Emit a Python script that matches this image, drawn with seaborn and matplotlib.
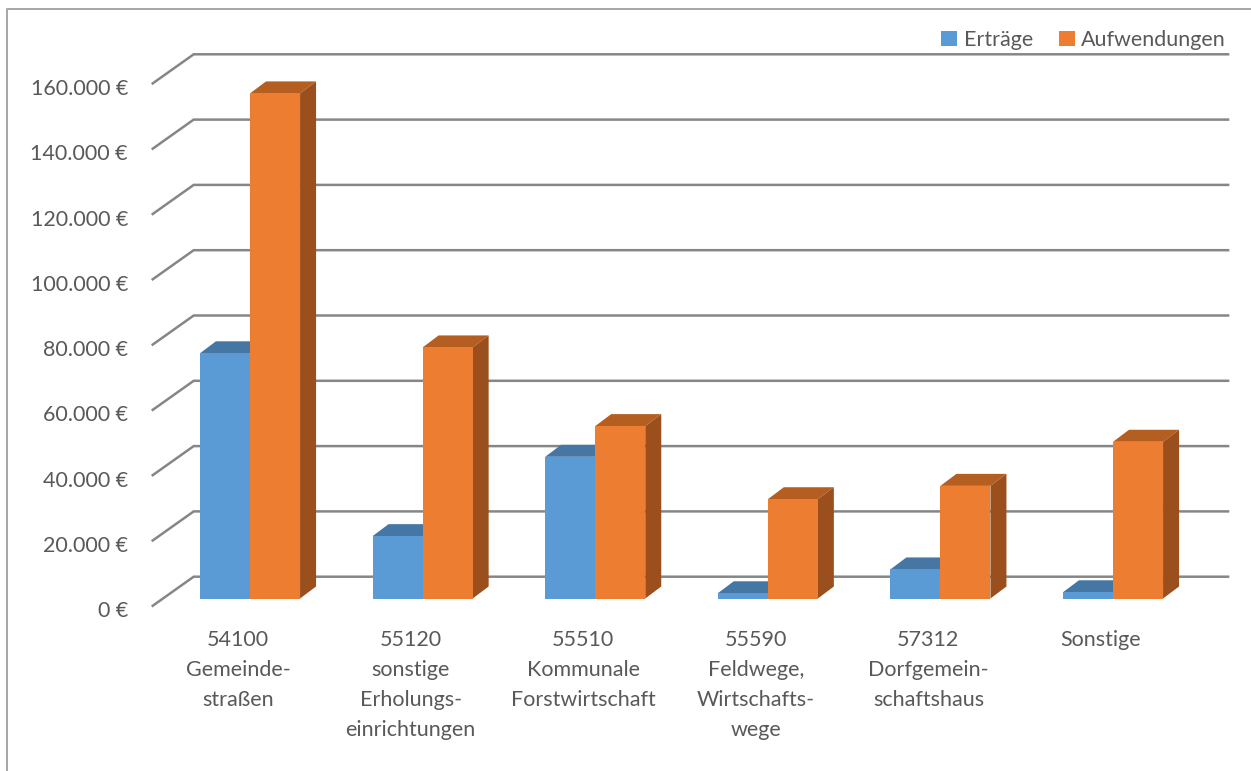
import numpy as np
import pandas as pd
import matplotlib
matplotlib.use("Agg")
import matplotlib.pyplot as plt
from matplotlib.patches import Polygon, Patch
from matplotlib.lines import Line2D
import seaborn as sns

# --- data -------------------------------------------------------------
categories = [
    "54100\nGemeinde-\nstraßen",
    "55120\nsonstige\nErholungs-\neinrichtungen",
    "55510\nKommunale\nForstwirtschaft",
    "55590\nFeldwege,\nWirtschafts-\nwege",
    "57312\nDorfgemein-\nschaftshaus",
    "Sonstige",
]
ertraege = [75100, 19100, 43400, 1600, 8900, 1900]
aufwendungen = [154700, 76900, 52800, 30400, 34500, 48000]
series_names = ["Erträge", "Aufwendungen"]
y_ticks = [0, 20000, 40000, 60000, 80000, 100000, 120000, 140000, 160000]
y_tick_labels = ["0 €", "20.000 €", "40.000 €", "60.000 €", "80.000 €",
                 "100.000 €", "120.000 €", "140.000 €", "160.000 €"]

# --- styling ----------------------------------------------------------
front_colors = ["#5B9BD5", "#ED7D31"]
top_colors = ["#4676A3", "#B55E22"]
side_colors = ["#3F6A93", "#9A4F1D"]
grid_color = "#868686"
text_color = "#595959"

sns.set_theme(style="white")
plt.rcParams["font.family"] = ["Lato", "DejaVu Sans"]

df = pd.DataFrame({
    "Kategorie": categories * 2,
    "Serie": [series_names[0]] * len(categories) + [series_names[1]] * len(categories),
    "Wert": [v / 1000 for v in ertraege] + [v / 1000 for v in aufwendungen],
})

W, H = 1251, 771
fig = plt.figure(figsize=(W / 100, H / 100), dpi=100)
ax = fig.add_axes([0, 0, 1, 1])

sns.barplot(data=df, x="Kategorie", y="Wert", hue="Serie",
            palette=front_colors, width=0.58, linewidth=0,
            saturation=1, legend=False, ax=ax, zorder=3)

# pixel scale of the bar plane
px_per_cat = 172.6
px_per_k = 3.265
x0_px, y0_px = 250.0, 598.5
ax.set_xlim(-x0_px / px_per_cat, (W - x0_px) / px_per_cat)
ax.set_ylim((y0_px - H) / px_per_k, y0_px / px_per_k)

# depth offsets (data units) for the front edge, the back wall and the bar depth
fdx, fdy = -12 / px_per_cat, -8 / px_per_k
bdx, bdy = 30 / px_per_cat, 21.8 / px_per_k
ddx, ddy = 16 / px_per_cat, 12 / px_per_k

# back-wall gridlines with the diagonal floor edge on the left
n = len(categories)
for t, lab in zip(y_ticks, y_tick_labels):
    v = t / 1000
    ax.plot([-0.5 + fdx, -0.5 + bdx, n - 0.5 + bdx],
            [v + fdy, v + bdy, v + bdy],
            color=grid_color, lw=1.8, zorder=1, solid_capstyle="butt",
            solid_joinstyle="miter")
    ax.text((128 - x0_px) / px_per_cat, v + fdy - 1.5, lab, ha="right",
            va="center", fontsize=15.5, color=text_color)

# top and side faces of the columns
for cont, tc, sc in zip(ax.containers, top_colors, side_colors):
    for bar in cont:
        x0 = bar.get_x()
        x1 = x0 + bar.get_width()
        h = bar.get_height()
        top = Polygon([(x0, h), (x1, h), (x1 + ddx, h + ddy), (x0 + ddx, h + ddy)],
                      closed=True, facecolor=tc, edgecolor="none", zorder=2.5)
        side = Polygon([(x1, 0), (x1 + ddx, ddy), (x1 + ddx, h + ddy), (x1, h)],
                       closed=True, facecolor=sc, edgecolor="none", zorder=2.5)
        ax.add_patch(top)
        ax.add_patch(side)

# category labels under the floor edge
for i, lab in enumerate(categories):
    ax.text(i + fdx, (y0_px - 630) / px_per_k, lab, ha="center", va="top",
            fontsize=15.5, color=text_color, linespacing=1.62)

ax.set_xticks([])
ax.set_yticks([])
ax.set_xlabel("")
ax.set_ylabel("")
for s in ax.spines.values():
    s.set_visible(False)

# legend
handles = [Patch(facecolor=c, edgecolor="none") for c in front_colors]
fig.legend(handles, series_names, loc="upper right",
           bbox_to_anchor=(1226 / W, 1 - 30 / H), ncol=2, frameon=False,
           fontsize=15.5, handlelength=0.75, handleheight=0.75,
           handletextpad=0.3, columnspacing=1.2, labelcolor=text_color,
           borderpad=0, borderaxespad=0)

# chart frame (left and top edges)
fig.add_artist(Line2D([7 / W, 7 / W, 1.0], [0.0, 1 - 9 / H, 1 - 9 / H],
                      transform=fig.transFigure, color="#a6a6a6", lw=1.4))

fig.savefig("out.png", dpi=100)
